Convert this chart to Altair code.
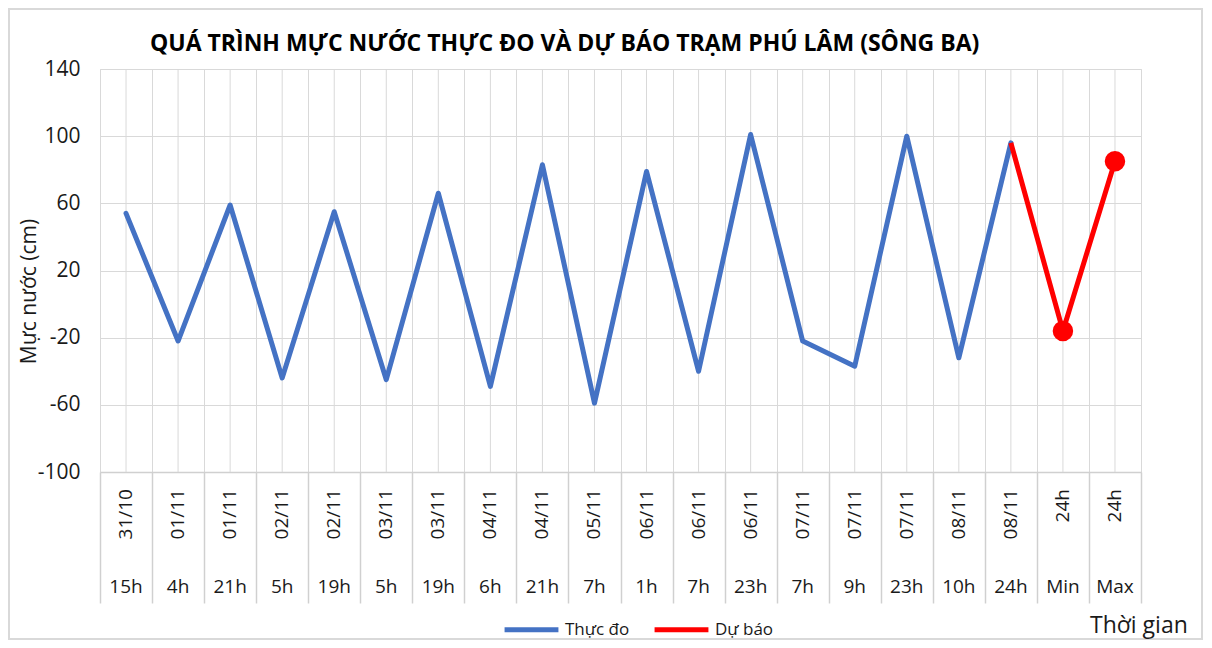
import altair as alt
import pandas as pd

# ---------------- data ----------------
dates = ["31/10", "01/11", "01/11", "02/11", "02/11", "03/11", "03/11", "04/11", "04/11", "05/11",
         "06/11", "06/11", "06/11", "07/11", "07/11", "07/11", "08/11", "08/11", "24h", "24h"]
hours = ["15h", "4h", "21h", "5h", "19h", "5h", "19h", "6h", "21h", "7h",
         "1h", "7h", "23h", "7h", "9h", "23h", "10h", "24h", "Min", "Max"]
observed = [54, -22, 59, -44, 55, -45, 66, -49, 83, -59, 79, -40, 101, -22, -37, 100, -32, 96]
forecast_idx = [17, 18, 19]
forecast = [96, -16, 85]
marker_idx = [18, 19]
marker_val = [-16, 85]
y_ticks = [-100, -60, -20, 20, 60, 100, 140]
series_names = ["Thực đo", "Dự báo"]
series_colors = ["#4472C4", "#FF0000"]

FONT = "Open Sans"
GRID = "#D9D9D9"
TXT = "#1a1a1a"

cats = pd.DataFrame({"idx": list(range(len(dates))), "date": dates, "hour": hours})
obs_df = pd.DataFrame({"idx": list(range(len(observed))), "value": observed, "series": series_names[0]})
fc_df = pd.DataFrame({"idx": forecast_idx, "value": forecast, "series": series_names[1]})
mk_df = pd.DataFrame({"idx": marker_idx, "value": marker_val})
boundaries = [i - 0.5 for i in range(len(dates) + 1)]

W, H = 1041, 403

xs = alt.Scale(domain=[-0.5, len(dates) - 0.5], nice=False, zero=False)
ys = alt.Scale(domain=[-100, 140], nice=False, zero=False)

x_axis = alt.Axis(values=boundaries, labels=False, ticks=True, tickSize=131, tickColor="#D0D0D0",
                  tickWidth=1.5, grid=True, gridColor=GRID, gridWidth=1, domain=True,
                  domainColor="#D0D0D0", domainWidth=1.5, title=None)
y_axis = alt.Axis(values=y_ticks, grid=True, gridColor=GRID, gridWidth=1.2, domain=False, ticks=False,
                  labelExpr="'' + datum.value",
                  labelFontSize=21, labelFont=FONT, labelColor=TXT, labelPadding=20,
                  title="Mực nước (cm)", titleFont=FONT, titleFontSize=21, titleFontWeight="normal",
                  titleColor=TXT, titleX=-71, titleY=222, titleAngle=270, titleAlign="center",
                  titleBaseline="middle")

x_enc = alt.X("idx:Q", scale=xs, axis=x_axis)
y_enc = alt.Y("value:Q", scale=ys, axis=y_axis)

color_enc = alt.Color("series:N",
                      scale=alt.Scale(domain=series_names, range=series_colors),
                      legend=alt.Legend(title=None, orient="none", legendX=402, legendY=531,
                                        direction="horizontal", symbolType="stroke",
                                        symbolStrokeWidth=5, symbolSize=2900,
                                        labelFont=FONT, labelFontSize=17, labelColor=TXT,
                                        labelOffset=4, columnPadding=14, padding=0))

center_grid = alt.Chart(cats).mark_rule(color=GRID, strokeWidth=1).encode(x=x_enc)

obs_line = alt.Chart(obs_df).mark_line(strokeWidth=5, strokeJoin="round", strokeCap="round").encode(
    x=x_enc, y=y_enc, color=color_enc)
fc_line = alt.Chart(fc_df).mark_line(strokeWidth=5, strokeJoin="round").encode(
    x=x_enc, y=y_enc, color=color_enc)
fc_pts = alt.Chart(mk_df).mark_circle(size=420, opacity=1, color="#FF0000").encode(x=x_enc, y=y_enc)

date_lbl = alt.Chart(cats).mark_text(angle=270, align="right", baseline="middle", font=FONT,
                                     fontSize=19, color=TXT).encode(
    x=x_enc, y=alt.value(420), text="date:N")
hour_lbl = alt.Chart(cats).mark_text(align="center", baseline="middle", font=FONT,
                                     fontSize=19, color=TXT).encode(
    x=x_enc, y=alt.value(518), text="hour:N")

title_df = pd.DataFrame({"t": ["QUÁ TRÌNH MỰC NƯỚC THỰC ĐO VÀ DỰ BÁO TRẠM PHÚ LÂM (SÔNG BA)"]})
title_txt = alt.Chart(title_df).mark_text(align="left", baseline="middle", font=FONT, fontSize=23,
                                          fontWeight="bold", color="#000000").encode(
    x=alt.value(50), y=alt.value(-25), text="t:N")

xt_df = pd.DataFrame({"t": ["Thời gian"]})
xtitle_txt = alt.Chart(xt_df).mark_text(align="left", baseline="middle", font=FONT, fontSize=23,
                                        color=TXT).encode(
    x=alt.value(990), y=alt.value(557), text="t:N")

border = alt.Chart(pd.DataFrame({"b": [0]})).mark_rect(fillOpacity=0, stroke=GRID, strokeWidth=2).encode(
    x=alt.value(-91), x2=alt.value(1102), y=alt.value(-60), y2=alt.value(570))

chart = alt.layer(
    border, center_grid, obs_line, fc_line, fc_pts, date_lbl, hour_lbl, title_txt, xtitle_txt
).properties(
    width=W, height=H,
    autosize=alt.AutoSizeParams(type="none"),
    padding={"left": 92, "top": 61, "right": 63, "bottom": 168},
).configure_view(stroke=GRID).configure(background="white")

chart.save("out.html", embed_options={"renderer": "svg", "actions": False})
